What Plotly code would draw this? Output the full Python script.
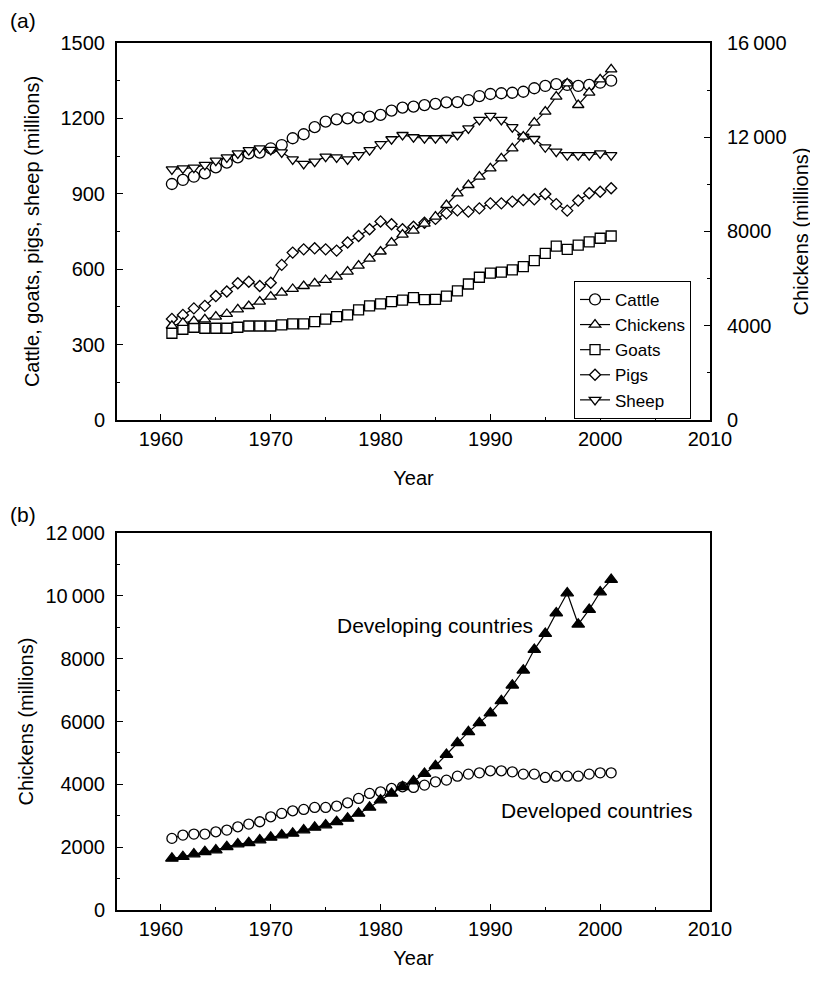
import plotly.graph_objects as go

years = [1961, 1962, 1963, 1964, 1965, 1966, 1967, 1968, 1969, 1970,
         1971, 1972, 1973, 1974, 1975, 1976, 1977, 1978, 1979, 1980,
         1981, 1982, 1983, 1984, 1985, 1986, 1987, 1988, 1989, 1990,
         1991, 1992, 1993, 1994, 1995, 1996, 1997, 1998, 1999, 2000, 2001]

cattle = [939, 955, 968, 981, 1005, 1024, 1045, 1061, 1064, 1081,
          1094, 1121, 1137, 1165, 1187, 1196, 1200, 1203, 1207, 1214,
          1231, 1243, 1247, 1253, 1258, 1264, 1265, 1273, 1289, 1297,
          1300, 1302, 1306, 1320, 1329, 1336, 1333, 1329, 1333, 1342, 1350]

chickens = [4000, 4120, 4200, 4270, 4385, 4499, 4697, 4838, 5022, 5234,
            5404, 5560, 5687, 5800, 5942, 6083, 6295, 6550, 6850, 7150,
            7530, 7870, 8035, 8330, 8629, 9125, 9620, 9973, 10327, 10681,
            11106, 11530, 12025, 12619, 13086, 13723, 14289, 13369, 13891, 14459, 14884]

goats = [345, 361, 369, 365, 365, 365, 369, 374, 374, 374,
         378, 382, 382, 391, 401, 411, 418, 438, 454, 462,
         471, 477, 487, 479, 480, 493, 514, 541, 568, 584,
         588, 597, 610, 634, 663, 692, 679, 696, 709, 723, 732]

pigs = [402, 418, 444, 454, 493, 511, 544, 550, 533, 546,
        617, 666, 679, 683, 679, 674, 706, 732, 759, 790,
        779, 759, 769, 785, 800, 822, 834, 829, 842, 862,
        862, 869, 875, 878, 899, 859, 833, 873, 902, 908, 922]

sheep = [997, 1001, 1004, 1015, 1032, 1045, 1061, 1074, 1081, 1075,
         1065, 1037, 1019, 1028, 1048, 1045, 1037, 1054, 1074, 1098,
         1117, 1134, 1125, 1121, 1121, 1122, 1134, 1160, 1194, 1210,
         1194, 1165, 1127, 1118, 1085, 1068, 1054, 1054, 1054, 1061, 1054]

developing = [1643, 1696, 1781, 1855, 1908, 2014, 2099, 2141, 2226, 2311,
              2385, 2438, 2544, 2629, 2703, 2809, 2915, 3074, 3265, 3498,
              3710, 3922, 4102, 4346, 4590, 4950, 5320, 5670, 5956, 6265,
              6660, 7155, 7632, 8290, 8799, 9455, 10090, 9095, 9562, 10122, 10516]

developed = [2280, 2385, 2417, 2417, 2490, 2544, 2649, 2735, 2809, 2967,
             3074, 3158, 3201, 3265, 3265, 3307, 3413, 3551, 3710, 3763,
             3869, 3922, 3901, 3975, 4080, 4134, 4261, 4325, 4367, 4431,
             4431, 4399, 4325, 4325, 4219, 4261, 4261, 4261, 4325, 4367, 4367]

left_ticks_a = [0, 300, 600, 900, 1200, 1500]
right_ticks_a = [0, 4000, 8000, 12000, 16000]
right_ticktext_a = ["0", "4000", "8000", "12\u2009000", "16\u2009000"]
ticks_b = [0, 2000, 4000, 6000, 8000, 10000, 12000]
ticktext_b = ["0", "2000", "4000", "6000", "8000", "10\u2009000", "12\u2009000"]

FONT = "Liberation Sans, Arial, Helvetica, sans-serif"
BLACK = "#000000"

fig = go.Figure()

def series(x, y, name, symbol, size, xa, ya, fill="white", show=True):
    return go.Scatter(
        x=x, y=y, name=name, mode="lines+markers", xaxis=xa, yaxis=ya,
        line=dict(color=BLACK, width=1.2),
        marker=dict(symbol=symbol, size=size, color=fill,
                    line=dict(color=BLACK, width=1.3)),
        showlegend=show,
    )

fig.add_trace(series(years, cattle, "Cattle", "circle", 11, "x", "y"))
fig.add_trace(series(years, chickens, "Chickens", "triangle-up", 10, "x", "y2"))
fig.add_trace(series(years, goats, "Goats", "square", 10, "x", "y"))
fig.add_trace(series(years, pigs, "Pigs", "diamond", 8.5, "x", "y"))
fig.add_trace(series(years, sheep, "Sheep", "triangle-down", 10, "x", "y"))

fig.add_trace(series(years, developed, "Developed countries", "circle", 10,
                     "x2", "y3", show=False))
fig.add_trace(series(years, developing, "Developing countries", "triangle-up", 11,
                     "x2", "y3", fill=BLACK, show=False))

tickfont = dict(family=FONT, size=20, color=BLACK)
titlefont = dict(family=FONT, size=20, color=BLACK)

xcommon = dict(
    range=[1956, 2010], tickmode="array", tickvals=[1960, 1970, 1980, 1990, 2000, 2010],
    ticks="inside", ticklen=6, tickwidth=1.2, tickcolor=BLACK,
    minor=dict(ticks="inside", ticklen=3, tickwidth=1, tickcolor=BLACK,
               tickmode="array", tickvals=[1965, 1975, 1985, 1995, 2005]),
    showline=True, linecolor=BLACK, linewidth=2, mirror=True,
    showgrid=False, zeroline=False, tickfont=tickfont, ticklabelstandoff=0,
    automargin=False,
)

dom_a = [0.5652, 1.0]
dom_b = [0.0, 0.4348]

fig.update_layout(
    width=818, height=982,
    margin=dict(l=109, r=116, t=35, b=80),
    paper_bgcolor="white", plot_bgcolor="white",
    font=dict(family=FONT, size=20, color=BLACK),
    xaxis=dict(**xcommon, anchor="y", domain=[0, 1],
               title=dict(text="Year", font=titlefont, standoff=22)),
    yaxis=dict(
        domain=dom_a, range=[0, 1500], tickmode="array", tickvals=left_ticks_a,
        ticks="inside", ticklen=6, tickwidth=1.2, tickcolor=BLACK,
        minor=dict(ticks="inside", ticklen=3, tickwidth=1, tickcolor=BLACK, dtick=150, tick0=0),
        showline=True, linecolor=BLACK, linewidth=2, mirror=False,
        showgrid=False, zeroline=False, tickfont=tickfont, ticklabelstandoff=6,
        title=dict(text="Cattle, goats, pigs, sheep (millions)", font=titlefont, standoff=15),
        anchor="x", automargin=False,
    ),
    yaxis2=dict(
        overlaying="y", side="right", anchor="x", range=[0, 16000],
        tickmode="array", tickvals=right_ticks_a, ticktext=right_ticktext_a,
        ticks="inside", ticklen=6, tickwidth=1.2, tickcolor=BLACK,
        minor=dict(ticks="inside", ticklen=3, tickwidth=1, tickcolor=BLACK, dtick=2000, tick0=0),
        showline=True, linecolor=BLACK, linewidth=2,
        showgrid=False, zeroline=False, tickfont=tickfont, ticklabelstandoff=11,
        title=dict(text="Chickens (millions)", font=titlefont, standoff=8),
        automargin=False,
    ),
    xaxis2=dict(**xcommon, anchor="y3", domain=[0, 1],
                title=dict(text="Year", font=titlefont, standoff=12)),
    yaxis3=dict(
        domain=dom_b, range=[0, 12000], anchor="x2",
        tickmode="array", tickvals=ticks_b, ticktext=ticktext_b,
        ticks="inside", ticklen=6, tickwidth=1.2, tickcolor=BLACK,
        minor=dict(ticks="inside", ticklen=3, tickwidth=1, tickcolor=BLACK, dtick=1000, tick0=0),
        showline=True, linecolor=BLACK, linewidth=2, mirror=True,
        showgrid=False, zeroline=False, tickfont=tickfont, ticklabelstandoff=6,
        title=dict(text="Chickens (millions)", font=titlefont, standoff=6),
        automargin=False,
    ),
    legend=dict(
        x=0.968, y=0.646, xanchor="right", yanchor="middle",
        xref="paper", yref="paper",
        bgcolor="white", bordercolor=BLACK, borderwidth=1,
        font=dict(family=FONT, size=17, color=BLACK),
        tracegroupgap=0, itemwidth=30,
    ),
    showlegend=True,
    annotations=[
        dict(text="(a)", xref="paper", yref="paper", x=-0.1838, y=1.0254,
             xanchor="left", yanchor="middle", showarrow=False,
             font=dict(family=FONT, size=21, color=BLACK)),
        dict(text="(b)", xref="paper", yref="paper", x=-0.1838, y=0.4556,
             xanchor="left", yanchor="middle", showarrow=False,
             font=dict(family=FONT, size=21, color=BLACK)),
        dict(text="Developing countries", xref="x2", yref="y3", x=1994.1, y=9060,
             xanchor="right", yanchor="middle", showarrow=False,
             font=dict(family=FONT, size=21, color=BLACK)),
        dict(text="Developed countries", xref="x2", yref="y3", x=1990.75, y=3180,
             xanchor="left", yanchor="middle", showarrow=False,
             font=dict(family=FONT, size=21, color=BLACK)),
    ],
)

fig.write_html("out.html")
